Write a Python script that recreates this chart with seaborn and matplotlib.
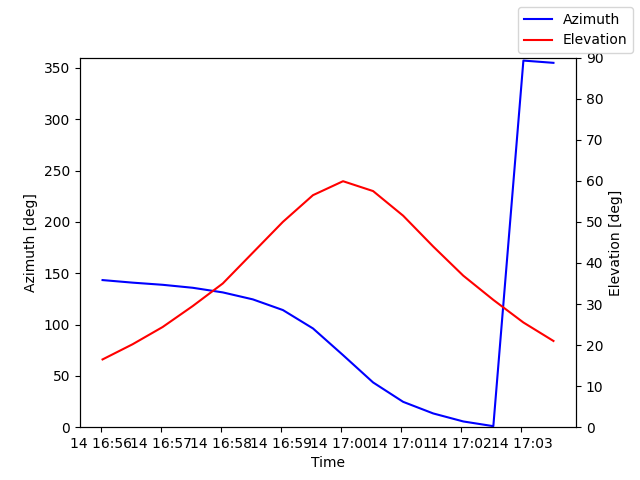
import matplotlib
matplotlib.use("Agg")
import matplotlib.pyplot as plt
import numpy as np
import pandas as pd
import seaborn as sns

# 30 s sampling of a pass, azimuth / elevation in degrees
times = pd.date_range("2024-01-14 16:56:02", periods=16, freq="30s")
azimuth = [143.3, 140.8, 138.7, 135.8, 131.3, 124.5, 114.1, 96.2,
           70.2, 43.6, 24.7, 13.4, 5.6, 1.0, 357.1, 354.9]
elevation = [16.5, 20.2, 24.4, 29.5, 35.0, 42.5, 50.0, 56.5,
             59.9, 57.5, 51.5, 44.0, 36.9, 31.0, 25.5, 21.0]

df = pd.DataFrame({"time": times, "azimuth": azimuth, "elevation": elevation})

fig, ax1 = plt.subplots(figsize=(6.4, 4.8), dpi=100)
ax2 = ax1.twinx()

sns.lineplot(data=df, x="time", y="azimuth", ax=ax1, color="blue", legend=False)
sns.lineplot(data=df, x="time", y="elevation", ax=ax2, color="red", legend=False)

ax1.set_ylim(0, 360)
ax2.set_ylim(0, 90)
ax1.set_xlabel("Time")
ax1.set_ylabel("Azimuth [deg]")
ax2.set_ylabel("Elevation [deg]")

handles = [ax1.get_lines()[0], ax2.get_lines()[0]]
fig.legend(handles, ["Azimuth", "Elevation"], loc="upper right")

fig.savefig("out.png", dpi=100)
